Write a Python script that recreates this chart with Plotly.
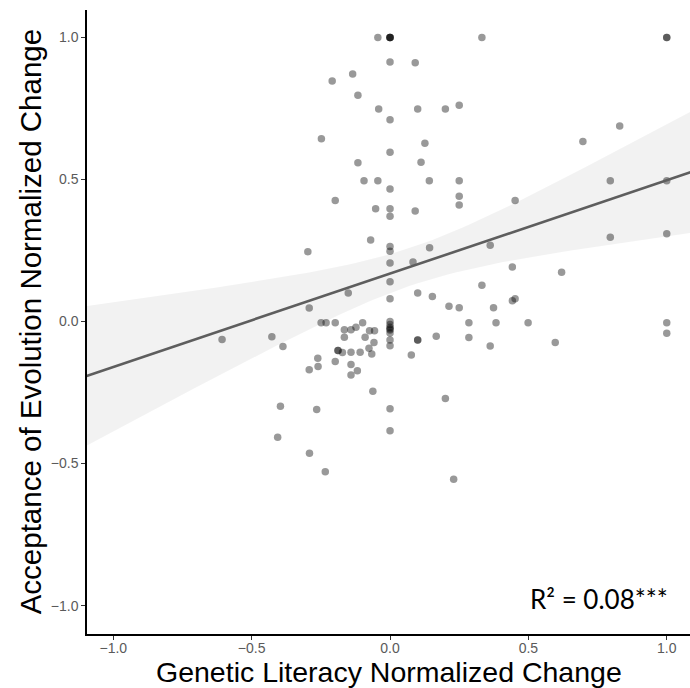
import numpy as np
import plotly.graph_objects as go

# Genetic literacy normalized change (x) and acceptance of evolution normalized change (y)
genetic_change = [
    -0.044, 0, 0, 0, 0, 0.332, 1.0, 1.0, 0, 0.091,
    -0.135, -0.209, -0.116, -0.041, 0.1, 0.2, 0.25, 0, 0.83, 0.697,
    -0.248, 0.126, 0, -0.116, 0.112, -0.094, -0.044, 0.142, 0.25, 0.796,
    1.0, 0, 0.25, 0.452, -0.198, 0, -0.052, 0.091, 0, 0.25,
    0.796, 1.0, -0.07, -0.297, 0, 0, 0.143, 0.362, 0, 0.083,
    0.442, 0.62, 0, 0.332, -0.151, 0.1, 0.153, 0, 0.442, 0.452,
    0.213, 0.25, 0.374, -0.292, -0.249, -0.231, -0.198, -0.099, -0.165, -0.141,
    -0.123, -0.074, -0.056, -0.165, -0.09, -0.058, -0.607, -0.427, -0.387, -0.188,
    -0.188, -0.172, -0.141, -0.108, -0.076, -0.066, -0.261, -0.292, -0.26, -0.198,
    -0.141, -0.141, -0.118, -0.062, -0.396, -0.265, -0.406, -0.291, -0.234, 0.23,
    0, 0, 0, 0, 0, 0, 0, 0, 0, 0,
    0.285, 0.383, 0.499, 1.0, 1.0, 0.1, 0.1, 0.167, 0.285, 0.362,
    0.597, 0.077, 0.2,
]
evolution_change = [
    1.0, 1.0, 1.0, 1.0, 1.0, 1.0, 1.0, 1.0, 0.914, 0.911,
    0.872, 0.847, 0.797, 0.748, 0.748, 0.748, 0.762, 0.711, 0.689, 0.634,
    0.644, 0.628, 0.596, 0.559, 0.561, 0.496, 0.496, 0.496, 0.496, 0.496,
    0.496, 0.467, 0.441, 0.426, 0.426, 0.397, 0.397, 0.389, 0.371, 0.41,
    0.297, 0.309, 0.287, 0.246, 0.264, 0.248, 0.26, 0.269, 0.206, 0.21,
    0.192, 0.174, 0.14, 0.128, 0.101, 0.101, 0.088, 0.08, 0.073, 0.08,
    0.054, 0.049, 0.049, 0.048, -0.004, -0.004, -0.004, -0.004, -0.029, -0.029,
    -0.02, -0.032, -0.032, -0.055, -0.055, -0.074, -0.063, -0.053, -0.088, -0.102,
    -0.102, -0.109, -0.108, -0.108, -0.094, -0.114, -0.129, -0.17, -0.158, -0.141,
    -0.151, -0.188, -0.173, -0.245, -0.298, -0.31, -0.407, -0.464, -0.529, -0.555,
    0.0, -0.01, -0.02, -0.025, -0.03, -0.04, -0.065, -0.085, -0.307, -0.384,
    -0.004, -0.004, -0.004, -0.004, -0.041, -0.065, -0.065, -0.052, -0.056, -0.086,
    -0.074, -0.118, -0.271,
]

axis_ticks = [-1.0, -0.5, 0.0, 0.5, 1.0]
axis_tick_labels = ["\u22121.0", "\u22120.5", "0.0", "0.5", "1.0"]
x_title = "Genetic Literacy Normalized Change"
y_title = "Acceptance of Evolution Normalized Change"
r2_label = "R\u00b2 = 0.08***"

x = np.array(genetic_change, dtype=float)
y = np.array(evolution_change, dtype=float)
n = len(x)

# OLS fit with 95% confidence band (like geom_smooth(method="lm", fullrange=TRUE))
b1, b0 = np.polyfit(x, y, 1)
resid = y - (b0 + b1 * x)
s = np.sqrt(np.sum(resid ** 2) / (n - 2))
xbar = x.mean()
sxx = np.sum((x - xbar) ** 2)
t_crit = 1.98
grid = np.linspace(-1.1, 1.1, 80)
fit = b0 + b1 * grid
half = t_crit * s * np.sqrt(1.0 / n + (grid - xbar) ** 2 / sxx)
upper = fit + half
lower = fit - half

fig = go.Figure()
fig.add_trace(go.Scatter(
    x=x, y=y, mode="markers",
    marker=dict(size=7.5, color="rgba(0,0,0,0.4)", line=dict(width=0)),
    hoverinfo="skip", showlegend=False,
))
fig.add_trace(go.Scatter(
    x=np.concatenate([grid, grid[::-1]]),
    y=np.concatenate([upper, lower[::-1]]),
    fill="toself", fillcolor="rgba(0,0,0,0.05)",
    line=dict(width=0), mode="lines", hoverinfo="skip", showlegend=False,
))
fig.add_trace(go.Scatter(
    x=grid, y=fit, mode="lines",
    line=dict(color="#5e5e5e", width=2.6),
    hoverinfo="skip", showlegend=False,
))

axis_common = dict(
    tickmode="array", tickvals=axis_ticks, ticktext=axis_tick_labels,
    showgrid=False, zeroline=False, showline=True, linecolor="black", linewidth=1.5,
    ticks="outside", ticklen=4, tickwidth=1, tickcolor="#333333", automargin=False,
    tickfont=dict(family="Liberation Sans, Arial", size=14, color="#5a5a5a"),
)
fig.update_xaxes(**axis_common, range=[-1.095, 1.084], ticklabelstandoff=-4)
fig.update_yaxes(**axis_common, range=[-1.1, 1.097])

# axis titles as annotations for exact placement
fig.add_annotation(
    x=0.5, y=-(672 - 634) / 624, xref="paper", yref="paper", xanchor="center", yanchor="middle",
    text=x_title, showarrow=False, borderpad=0,
    font=dict(family="Liberation Sans, Arial", size=28.5, color="black"),
)
fig.add_annotation(
    x=-0.094, y=0.5, xref="paper", yref="paper", xanchor="center", yanchor="middle",
    text=y_title, showarrow=False, textangle=-90, borderpad=0,
    font=dict(family="Liberation Sans, Arial", size=29.5, color="black"),
)

fig.add_annotation(
    x=1.012, y=-0.975, xref="x", yref="y", xanchor="right", yanchor="middle",
    text=r2_label, showarrow=False,
    font=dict(family="Lato, Open Sans", size=26, color="black"),
)

fig.update_layout(
    width=690, height=688,
    margin=dict(l=87, r=0, t=10, b=54),
    plot_bgcolor="white", paper_bgcolor="white",
)

fig.write_html("out.html")
